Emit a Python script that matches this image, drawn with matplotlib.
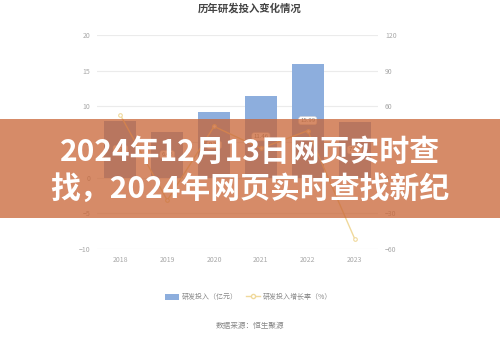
import matplotlib
matplotlib.use("Agg")
import matplotlib.pyplot as plt
from matplotlib.patches import Rectangle
from matplotlib.lines import Line2D
from matplotlib.patches import FancyBboxPatch, Patch

plt.rcParams['font.family'] = ['Noto Sans CJK SC', 'DejaVu Sans']

# Data
years = ['2018', '2019', '2020', '2021', '2022', '2023']
rd_invest = [7.95, 6.43, 9.20, 11.46, 15.99, 7.80]          # 亿元
rd_growth = [52.6, -19.1, 43.1, 24.6, 39.5, -51.2]          # %
left_ticks = [-10, -5, 0, 5, 10, 15, 20]
right_ticks = [-60, -30, 0, 30, 60, 90, 120]

title = '历年研发投入变化情况'
bar_name = '研发投入（亿元）'
line_name = '研发投入增长率（%）'
source = '数据来源：恒生聚源'
banner_lines = ['2024年12月13日网页实时查', '找，2024年网页实时查找新纪']

W, H = 500, 338
fig = plt.figure(figsize=(W / 100, H / 100), dpi=100)
fig.patch.set_facecolor('white')

ax = fig.add_axes([97 / W, 1 - 249 / H, 281 / W, 214 / H])
x = list(range(len(years)))

bar_color = '#8DAEDD'
line_color = '#F0D99C'
tick_color = '#A8A8A8'

ax.bar(x, rd_invest, width=0.68, color=bar_color, zorder=2)
ax.set_xlim(-0.5, len(years) - 0.5)
ax.set_ylim(-10, 20)
ax.set_yticks(left_ticks)
ax.set_xticks(x)
ax.set_xticklabels(years)
ax.grid(axis='y', color='#EBEBEB', linewidth=0.8, zorder=0)
ax.set_axisbelow(True)
for s in ax.spines.values():
    s.set_visible(False)
ax.tick_params(axis='both', length=0, colors=tick_color, labelsize=5)
ax.tick_params(axis='y', pad=5)
ax.tick_params(axis='x', pad=5)

# value labels in the middle of each bar
for xi, v in zip(x, rd_invest):
    ax.text(xi, v / 2, f'{v:.2f}', ha='center', va='center', fontsize=4.3,
            color='#8A8A8A', zorder=5,
            bbox=dict(boxstyle='round,pad=0.25,rounding_size=0.4',
                      facecolor='white', edgecolor='#D8D8D8', linewidth=0.4))

ax2 = ax.twinx()
ax2.set_ylim(-60, 120)
ax2.set_yticks(right_ticks)
for s in ax2.spines.values():
    s.set_visible(False)
ax2.tick_params(axis='y', length=0, colors=tick_color, labelsize=5, pad=5)
ax2.plot(x, rd_growth, color=line_color, linewidth=1.0, marker='o',
         markersize=2.6, markerfacecolor='white', markeredgecolor=line_color,
         markeredgewidth=0.8, zorder=3)

fig.text(0.5, 1 - 8 / H, title, ha='center', va='center', fontsize=7.5,
         fontweight='bold', color='#444444')

handles = [
    Patch(facecolor=bar_color, edgecolor='none'),
    Line2D([0], [0], color=line_color, linewidth=1.0, marker='o', markersize=3,
           markerfacecolor='white', markeredgecolor=line_color),
]
fig.legend(handles, [bar_name, line_name], loc='center', ncol=2,
           bbox_to_anchor=(0.497, 1 - 297 / H), frameon=False, fontsize=5,
           labelcolor='#888888', handlelength=2.0, handleheight=1.0,
           columnspacing=1.2, handletextpad=0.4)

fig.text(0.5, 1 - 326 / H, source, ha='center', va='center', fontsize=5.5,
         color='#888888')

# translucent banner across the middle
fig.patches.append(Rectangle((0, 1 - 218 / H), 1, 99 / H, transform=fig.transFigure,
                             facecolor=(200 / 255, 99 / 255, 51 / 255), alpha=0.74,
                             edgecolor='none', zorder=10))
fig.text(0.5, 1 - 152 / H, banner_lines[0], ha='center', va='center', fontsize=21.5,
         fontweight='bold', color='white', zorder=11)
fig.text(0.5, 1 - 189 / H, banner_lines[1], ha='center', va='center', fontsize=21.5,
         fontweight='bold', color='white', zorder=11)

fig.savefig('out.png', dpi=100, facecolor='white')
